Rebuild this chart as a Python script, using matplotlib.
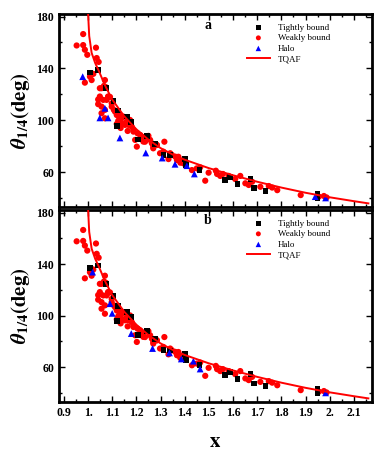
import matplotlib
matplotlib.use("Agg")
import matplotlib.pyplot as plt
from matplotlib.ticker import MultipleLocator, FixedLocator

plt.rcParams['font.family'] = ['Liberation Serif', 'DejaVu Serif']
plt.rcParams['mathtext.fontset'] = 'stix'

# ---- data ----
wb_x = [0.953, 0.98, 0.98, 0.987, 0.997, 1.033, 1.036, 1.044, 1.011, 1.017, 0.987, 1.015, 1.07, 1.056, 1.066,
        1.049, 1.056, 1.084, 1.098, 1.07, 1.112, 1.132, 1.008, 1.022, 1.049, 1.074, 1.042, 1.056, 1.07, 1.077,
        1.091, 1.107, 1.119, 1.139, 1.119, 1.153, 1.164, 1.181, 1.188, 1.202, 1.216, 1.25, 1.236, 1.27, 1.284,
        1.316, 1.298, 1.333, 1.34, 1.361, 1.382, 1.43, 1.45, 1.042, 1.063, 1.083, 1.049, 1.098, 1.146, 1.16,
        1.174, 1.139, 1.167, 1.188, 1.195, 1.222, 1.229, 1.257, 1.264, 1.285, 1.312, 1.347, 1.374, 1.368, 1.27,
        1.381, 1.395, 1.464, 1.485, 1.499, 1.534, 1.529, 1.547, 1.558, 1.582, 1.609, 1.63, 1.651, 1.665, 1.679,
        1.713, 1.748, 1.762, 1.783, 1.88, 1.955, 1.976, 1.987, 1.125, 1.135, 1.205, 1.13]
wb_y = [157.7, 166.5, 158, 154.4, 150.5, 156, 148, 145, 136.4, 135.8, 129, 131, 131, 124.7, 126.5,
        117, 110.5, 118, 110.5, 108, 106.6, 104, 133.7, 135.8, 124.7, 125.5, 116, 105.4, 101.5, 115.7,
        118, 108, 104, 101.5, 97.1, 96.4, 91.7, 95, 91.2, 79.6, 88.6, 87.9, 83.4, 78.3, 80.9,
        83.4, 74.5, 70, 74.5, 71.9, 67.2, 61.5, 62.8, 112.4, 115.7, 118.3, 118.3, 113, 102.8, 98.9,
        100.2, 97.7, 96.4, 92.5, 84.8, 87.3, 83.5, 84.8, 82.2, 80.9, 75.7, 73.2, 71.8, 69.3, 79.6,
        68.5, 66.7, 63.6, 53.3, 59.5, 58.5, 61, 57, 58.5, 57, 54.6, 57, 51.3, 50, 52.5,
        48.6, 49.2, 48, 46, 42.2, 41, 41.5, 40.4, 99.5, 94, 89.9, 100.5]

tb_x = [1.008, 1.04, 1.073, 1.105, 1.125, 1.16, 1.177, 1.119, 1.208, 1.243, 1.278, 1.312, 1.34, 1.402, 1.406,
        1.461, 1.568, 1.586, 1.619, 1.672, 1.688, 1.734, 1.949, 1.949]
tb_y = [136.8, 139, 124.7, 115, 107.4, 102.8, 98.9, 95.6, 85.2, 88, 81.7, 73.2, 73, 70.3, 65.4,
        61.5, 53.8, 56, 51, 54.6, 47.4, 45.6, 43, 39.8]

halo_a_x = [0.978, 1.07, 1.049, 1.083, 1.132, 1.239, 1.307, 1.36, 1.409, 1.44, 1.94, 1.983]
halo_a_y = [133.6, 109.2, 101.8, 101.8, 86.3, 74.7, 70.8, 66, 64.9, 58.5, 41, 40]
halo_b_x = [1.019, 1.091, 1.1, 1.179, 1.267, 1.337, 1.386, 1.436, 1.464, 1.983]
halo_b_y = [133.8, 109.3, 101.8, 86.1, 74.5, 71.1, 66.4, 64.7, 58.6, 40.1]

tqaf_x = [0.999, 1.0008, 1.005, 1.015, 1.03, 1.045, 1.07, 1.1, 1.15, 1.2, 1.25, 1.3, 1.35, 1.4, 1.5,
          1.6, 1.7, 1.8, 1.9, 2.0, 2.1, 2.16]
tqaf_y = [186, 180.7, 165, 152, 144, 138, 127, 116, 103, 93, 85, 78.5, 73.5, 69.5, 63,
          57.5, 52.5, 48, 44, 40.5, 37.5, 35.8]

x_ticks = [0.9, 1.0, 1.1, 1.2, 1.3, 1.4, 1.5, 1.6, 1.7, 1.8, 1.9, 2.0, 2.1]
x_tick_labels = ['0.9', '1.', '1.1', '1.2', '1.3', '1.4', '1.5', '1.6', '1.7', '1.8', '1.9', '2.', '2.1']
y_ticks = [60, 100, 140, 180]
panel_labels = ['a', 'b']

fig = plt.figure(figsize=(3.82, 4.62), dpi=100)
ax_a = fig.add_axes([59/382, 1-207/462, 313/382, 193/462])
ax_b = fig.add_axes([59/382, 1-402/462, 313/382, 192/462])

for ax, hx, hy, lab in [(ax_a, halo_a_x, halo_a_y, panel_labels[0]), (ax_b, halo_b_x, halo_b_y, panel_labels[1])]:
    ax.scatter(wb_x, wb_y, s=20, marker='o', color='#ff0000', edgecolors='none', zorder=3, label='Weakly bound')
    ax.scatter(tb_x, tb_y, s=17, marker='s', color='black', edgecolors='none', zorder=4, label='Tightly bound')
    ax.scatter(hx, hy, s=24, marker='^', color='#0000ff', edgecolors='none', zorder=4, label='Halo')
    ax.plot(tqaf_x, tqaf_y, color='#ff0000', lw=1.4, zorder=5, label='TQAF')
    ax.set_xlim(0.88, 2.175)
    ax.set_ylim(33, 182)
    ax.xaxis.set_major_locator(FixedLocator(x_ticks))
    ax.xaxis.set_minor_locator(MultipleLocator(0.05))
    ax.yaxis.set_major_locator(FixedLocator(y_ticks))
    ax.yaxis.set_minor_locator(MultipleLocator(20))
    ax.tick_params(which='both', direction='in', top=True, right=True, width=1.0)
    ax.tick_params(which='major', length=4)
    ax.tick_params(which='minor', length=2.5)
    ax.set_yticklabels([str(v) for v in y_ticks], fontsize=8.5, fontweight='bold')
    for sp in ax.spines.values():
        sp.set_linewidth(2.0)
    ax.set_ylabel(r'$\boldsymbol{\theta}_{\mathbf{1/4}}\mathbf{(deg)}$', fontsize=15, labelpad=3)
    ax.text(1.497, 173.5, lab, fontsize=10, fontweight='bold', ha='center', va='center')
    h, l = ax.get_legend_handles_labels()
    order = [1, 0, 2, 3]
    ax.legend([h[i] for i in order], [l[i] for i in order], loc='upper left',
              bbox_to_anchor=(0.585, 0.975), frameon=False, fontsize=6.5,
              handlelength=2.6, handletextpad=0.9, labelspacing=0.25, borderpad=0,
              scatterpoints=1, numpoints=1, markerscale=0.8)

ax_a.set_xticklabels([])
ax_b.set_xticklabels(x_tick_labels, fontsize=8.5, fontweight='bold')
ax_b.set_xlabel(r'$\mathbf{x}$', fontsize=15, labelpad=10)

fig.savefig('out.png', dpi=100)
